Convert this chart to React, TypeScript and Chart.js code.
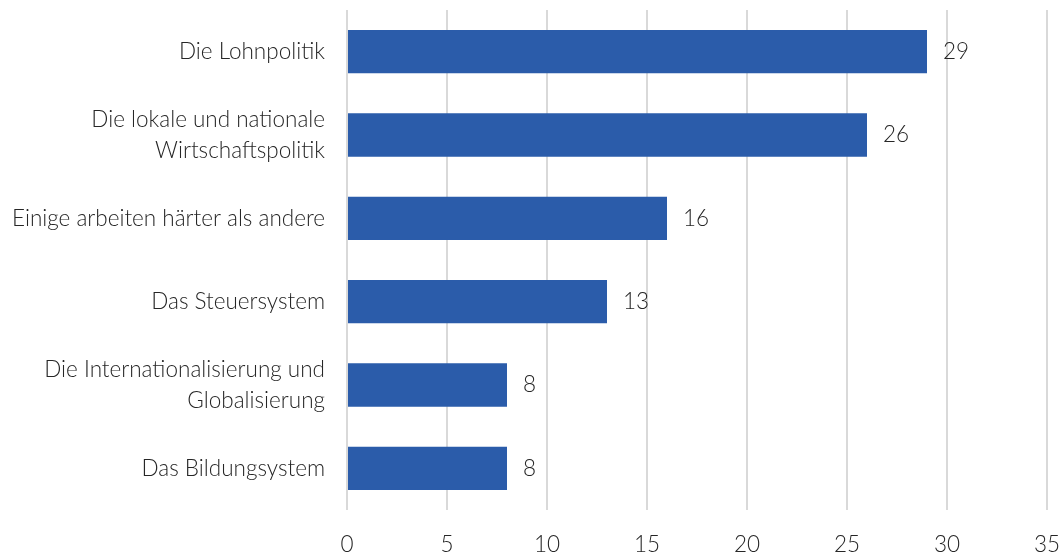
import React, { useEffect, useRef } from "react";
import { Chart, registerables } from "chart.js";

Chart.register(...registerables);

const categories: (string | string[])[] = [
  "Die Lohnpolitik",
  ["Die lokale und nationale", "Wirtschaftspolitik"],
  "Einige arbeiten härter als andere",
  "Das Steuersystem",
  ["Die Internationalisierung und", "Globalisierung"],
  "Das Bildungsystem",
];
const values: number[] = [29, 26, 16, 13, 8, 8];
const xMin = 0;
const xMax = 35;
const xStep = 5;

const FONT = "Lato";
const TEXT = "#262626";
const FS = 22.5;

const valueLabels = {
  id: "valueLabels",
  afterDatasetsDraw(chart: any) {
    const ctx = chart.ctx;
    const meta = chart.getDatasetMeta(0);
    ctx.save();
    ctx.font = `300 ${FS}px ${FONT}`;
    ctx.fillStyle = TEXT;
    ctx.textAlign = "left";
    ctx.textBaseline = "middle";
    meta.data.forEach((bar: any, i: number) => {
      ctx.fillText(String(values[i]), bar.x + 16, bar.y);
    });
    ctx.restore();
  },
};

export default function App() {
  const ref = useRef<HTMLCanvasElement>(null);
  useEffect(() => {
    document.body.style.margin = "0";
    const chart = new Chart(ref.current!, {
      type: "bar",
      data: {
        labels: categories,
        datasets: [
          {
            data: values,
            backgroundColor: "#2b5caa",
            borderWidth: 0,
            barPercentage: 0.52,
            categoryPercentage: 1,
          },
        ],
      },
      options: {
        indexAxis: "y",
        animation: false,
        responsive: false,
        layout: { padding: { top: 10, right: 15, left: 0, bottom: 0 } },
        plugins: { legend: { display: false }, tooltip: { enabled: false } },
        scales: {
          x: {
            min: xMin,
            max: xMax,
            ticks: {
              stepSize: xStep,
              color: TEXT,
              padding: 21,
              font: { family: FONT, size: FS, weight: "300" as any },
            },
            grid: { color: "#d9d9d9", lineWidth: 2, drawTicks: false },
            border: { display: false },
            afterFit(scale: any) {
              scale.height = 46;
              scale.paddingLeft = 0;
              scale.paddingRight = 0;
            },
          },
          y: {
            ticks: {
              color: TEXT,
              padding: 22,
              font: { family: FONT, size: FS, weight: "300" as any, lineHeight: 1.4 },
            },
            grid: { display: false, drawTicks: false },
            border: { display: false },
            afterFit(scale: any) {
              scale.width = 347;
              scale.paddingTop = 0;
              scale.paddingBottom = 0;
            },
          },
        },
      },
      plugins: [valueLabels],
    });
    return () => chart.destroy();
  }, []);
  return (
    <div style={{ width: 1062, height: 556 }}>
      <canvas ref={ref} width={1062} height={556} style={{ display: "block" }} />
    </div>
  );
}
